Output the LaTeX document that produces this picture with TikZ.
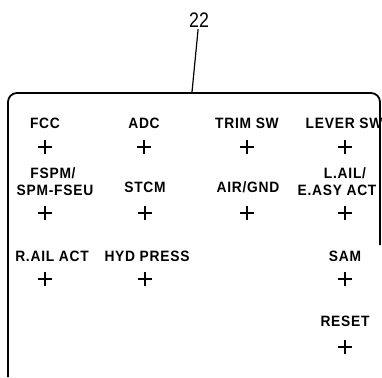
\documentclass[tikz,border=0pt]{standalone}
\usepackage{fontspec}
\setmainfont{Liberation Sans}
\newfontfamily\labfont[LetterSpace=5,FakeStretch=0.92]{Liberation Sans}
\newfontfamily\numfont[FakeStretch=0.85]{Liberation Sans}
\begin{document}
\begin{tikzpicture}[x=1pt,y=-1pt,
  lab/.style={font=\labfont\bfseries\fontsize{15}{16}\selectfont, inner sep=0pt, align=center, text depth=0pt},
  plus/.style={minimum size=14pt, inner sep=0pt, path picture={\draw[line width=2pt] (path picture bounding box.north) -- (path picture bounding box.south) (path picture bounding box.west) -- (path picture bounding box.east);}},
  frame/.style={line width=1.8pt, rounded corners=9pt},
  leader/.style={line width=1.2pt}]
\useasboundingbox (0,0) rectangle (382,377);
% frame
\coordinate (bl) at (8,377);
\coordinate (tl) at (8,93);
\coordinate (tr) at (380,93);
\coordinate (br) at (380,245);
\draw[frame] (bl) -- (tl) -- (tr) -- (br);
% leader
\node[font=\numfont\fontsize{21}{22}\selectfont, inner sep=1.5pt] (n22) at (199,20) {22};
\coordinate (lt) at (192,92);
\draw[leader] (lt) -- (n22);
% row 1
\node[lab] (fcc) at (45,123) {FCC};
\node[lab] (adc) at (144,123) {ADC};
\node[lab] (trim) at (247,123) {TRIM SW};
\node[lab] (lever) at (344,123) {LEVER SW};
\node[plus] (p11) at (45,147) {};
\node[plus] (p12) at (144,147) {};
\node[plus] (p13) at (247,147) {};
\node[plus] (p14) at (345,147) {};
% row 2
\node[lab] (fspm) at (53,173) {FSPM/};
\node[lab] (spm) at (55,190) {SPM-FSEU};
\node[lab] (stcm) at (145,187) {STCM};
\node[lab] (airgnd) at (248,187) {AIR/GND};
\node[lab] (lail) at (345,173) {L.AIL/};
\node[lab] (easy) at (337,190) {E.ASY ACT};
\node[plus] (p21) at (45,213) {};
\node[plus] (p22) at (145,213) {};
\node[plus] (p23) at (247,213) {};
\node[plus] (p24) at (345,213) {};
% row 3
\node[lab] (rail) at (52,256) {R.AIL ACT};
\node[lab] (hyd) at (147,256) {HYD PRESS};
\node[lab] (sam) at (345,256) {SAM};
\node[plus] (p31) at (45,279) {};
\node[plus] (p32) at (145,279) {};
\node[plus] (p34) at (345,279) {};
% row 4
\node[lab] (reset) at (345,321) {RESET};
\node[plus] (p44) at (345,347) {};
\end{tikzpicture}
\end{document}
